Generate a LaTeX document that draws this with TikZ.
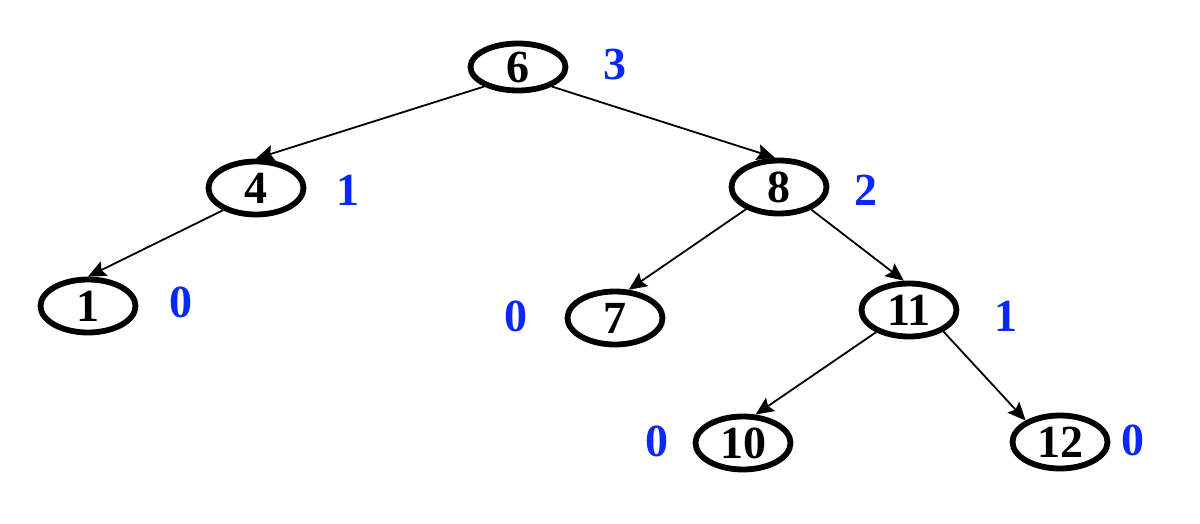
\documentclass[tikz,border=0pt]{standalone}
\usepackage{fontspec}
\setmainfont{Liberation Serif}
\usetikzlibrary{shapes.geometric,arrows.meta}
\definecolor{lblblue}{RGB}{10,40,250}
\begin{document}
\begin{tikzpicture}[x=0.5pt,y=-0.5pt,
  tnode/.style={ellipse,draw=black,line width=2.9pt,inner sep=0pt,minimum width=47.5pt,minimum height=26.5pt,font=\fontsize{23}{23}\selectfont\bfseries},
  toptnode/.style={tnode,minimum height=23.5pt},
  hlabel/.style={text=lblblue,font=\fontsize{23}{23}\selectfont\bfseries,inner sep=0pt},
  edge/.style={line width=0.9pt,-{Stealth[length=9pt,width=8pt,inset=1.5pt]}}]
\useasboundingbox (0,0) rectangle (1200,524);
\node[toptnode] (n6) at (518,67) {6};
\node[tnode] (n4) at (256,188) {4};
\node[tnode] (n8) at (779,187) {8};
\node[tnode] (n1) at (88,306) {1};
\node[tnode] (n7) at (615,318) {7};
\node[tnode] (n11) at (909,310) {11};
\node[tnode] (n10) at (743,443) {10};
\node[tnode] (n12) at (1060,442) {12};
\node[hlabel] (l6) at (615,64) {3};
\node[hlabel] (l4) at (348,190) {1};
\node[hlabel] (l8) at (866,190) {2};
\node[hlabel] (l1) at (181,302) {0};
\node[hlabel] (l7) at (516,316) {0};
\node[hlabel] (l11) at (1006,316) {1};
\node[hlabel] (l10) at (657,441) {0};
\node[hlabel] (l12) at (1133,440) {0};
\draw[edge] (n6.210) -- (n4.90);
\draw[edge] (n6.330) -- (n8.98);
\draw[edge] (n4.214) -- (n1.90);
\draw[edge] (n8.214) -- (n7.64);
\draw[edge] (n8.325) -- (n11.100);
\draw[edge] (n11.214) -- (n10.66);
\draw[edge] (n11.328) -- (n12.148);
\end{tikzpicture}
\end{document}
